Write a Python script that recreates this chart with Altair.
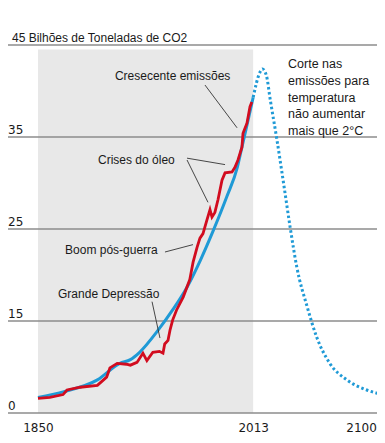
import altair as alt
import pandas as pd

# Historical trend (smooth blue)
blue_years = [1850, 1869, 1895, 1912, 1920, 1927, 1941, 1952, 1963, 1973, 1983, 1993, 2001, 2004.5, 2008, 2013]
blue_vals = [6.7, 7.3, 8.6, 10.4, 10.8, 11.6, 14.0, 16.2, 18.7, 21.6, 24.9, 28.5, 31.7, 33.9, 36.1, 39.3]

# Projection (dotted blue)
proj_years = [2013, 2018, 2020, 2023, 2026, 2031, 2036, 2041, 2046, 2054, 2061, 2071, 2084, 2099, 2111]
proj_vals = [39.3, 42.0, 42.4, 41.7, 39.0, 34.7, 30.0, 25.2, 20.9, 16.5, 13.3, 10.4, 8.6, 7.5, 7.0]

# Observed emissions (red)
red_years = [1850, 1859, 1869, 1872, 1882, 1895, 1902, 1904.5, 1910, 1917, 1920, 1925, 1929.5, 1932.5,
             1937, 1942, 1944.7, 1946, 1948.5, 1950, 1952, 1955, 1960, 1965, 1967.5, 1970.5, 1972.7,
             1975, 1978, 1980.3, 1981.8, 1984, 1986.4, 1989.4, 1991.7, 1997, 1999.2, 2001.5, 2004.5,
             2005.3, 2008.3, 2010.6, 2012]
red_vals = [6.6, 6.7, 7.0, 7.5, 7.8, 8.0, 8.9, 9.9, 10.4, 10.3, 10.2, 10.5, 11.5, 10.7,
            11.6, 11.7, 11.5, 12.5, 12.9, 14.0, 15.1, 16.2, 17.6, 19.5, 21.4, 23.0, 24.0,
            24.5, 26.0, 27.1, 26.3, 26.8, 28.2, 30.3, 31.1, 31.2, 31.7, 32.5, 33.9,
            35.4, 36.5, 38.3, 38.8]

# Axis ticks / labels
y_ticks = [45, 35, 25, 15, 5]
y_labels = ["", "35", "25", "15", "0"]
title_text = "45 Bilhões de Toneladas de CO2"
x_ticks = [1850, 2013, 2100]

# Shaded historical period
shade = pd.DataFrame({"x": [1850], "x2": [2013], "y": [5], "y2": [44.5]})

# Annotations
ann_text = ["Cresecente emissões", "Crises do óleo", "Boom pós-guerra", "Grande Depressão"]
ann_x = [1908.3, 1895.5, 1870.5, 1865.2]
ann_y = [41.6, 32.5, 22.7, 17.9]
lead_x = [1976.5, 1962.9, 1962.9, 1946.2, 1936.4]
lead_y = [40.65, 32.7, 32.5, 22.5, 17.1]
lead_x2 = [2000.8, 1991.7, 1978.8, 1967.4, 1942.4]
lead_y2 = [36.0, 32.0, 27.9, 23.3, 13.15]
note_text = "Corte nas\nemissões para\ntemperatura\nnão aumentar\nmais que 2°C"
note_x = 2039.4
note_y = 43.55

W = 369
X_DOMAIN = [1827.3, 2106.8]
Y_DOMAIN = [5, 45]
xs = alt.Scale(domain=X_DOMAIN, nice=False, zero=False)
ys = alt.Scale(domain=Y_DOMAIN, nice=False, zero=False)

BLUE = "#1f9ad6"
RED = "#d20c1f"
TXT = "#1a1a1a"

blue_df = pd.DataFrame({"year": blue_years, "v": blue_vals})
proj_df = pd.DataFrame({"year": proj_years, "v": proj_vals})
red_df = pd.DataFrame({"year": red_years, "v": red_vals})
grid_df = pd.DataFrame({"y": y_ticks, "label": y_labels})
ann_df = pd.DataFrame({"x": ann_x, "y": ann_y, "t": ann_text})
lead_df = pd.DataFrame({"x": lead_x, "y": lead_y, "x2": lead_x2, "y2": lead_y2})
note_df = pd.DataFrame({"x": [note_x], "y": [note_y], "t": [note_text]})
title_df = pd.DataFrame({"y": [45], "t": [title_text]})

xaxis = alt.Axis(values=x_ticks, format="d", labelFont="DejaVu Sans", labelFontSize=12,
                 labelColor=TXT, domain=False, ticks=False, grid=False, labelPadding=9,
                 title=None, labelFlush=False,
                 labelOffset={"condition": {"test": "datum.value == 2100", "value": -7}, "value": 0})

base_x = alt.X("year:Q", scale=xs, axis=xaxis)

rect = alt.Chart(shade).mark_rect(color="#e8e8e8").encode(
    x=alt.X("x:Q", scale=xs, axis=xaxis), x2="x2", y=alt.Y("y:Q", scale=ys, axis=None), y2="y2")

grid = alt.Chart(grid_df).mark_rule(color="#8c8c8c", strokeWidth=1.3).encode(
    y=alt.Y("y:Q", scale=ys, axis=None), x=alt.value(0), x2=alt.value(W))

ylab = alt.Chart(grid_df).mark_text(align="left", baseline="alphabetic", dy=-3,
                                    font="DejaVu Sans", fontSize=12, color=TXT).encode(
    y=alt.Y("y:Q", scale=ys, axis=None), x=alt.value(0), text="label:N")

title = alt.Chart(title_df).mark_text(align="left", baseline="alphabetic", dy=-3,
                                      font="Liberation Sans", fontSize=12, color=TXT).encode(
    y=alt.Y("y:Q", scale=ys, axis=None), x=alt.value(4), text="t:N")

blue = alt.Chart(blue_df).mark_line(color=BLUE, strokeWidth=3, interpolate="monotone", clip=True).encode(
    x=base_x, y=alt.Y("v:Q", scale=ys, axis=None))

proj = alt.Chart(proj_df).mark_line(color=BLUE, strokeWidth=3, strokeDash=[2.5, 2.5],
                                    interpolate="monotone", clip=True).encode(
    x=base_x, y=alt.Y("v:Q", scale=ys, axis=None))

red = alt.Chart(red_df).mark_line(color=RED, strokeWidth=2.8, clip=True).encode(
    x=base_x, y=alt.Y("v:Q", scale=ys, axis=None))

leads = alt.Chart(lead_df).mark_rule(color="#333333", strokeWidth=0.9).encode(
    x=alt.X("x:Q", scale=xs, axis=xaxis), y=alt.Y("y:Q", scale=ys, axis=None), x2="x2", y2="y2")

ann = alt.Chart(ann_df).mark_text(align="left", baseline="middle", font="Liberation Sans",
                                  fontSize=12, color=TXT).encode(
    x=alt.X("x:Q", scale=xs, axis=xaxis), y=alt.Y("y:Q", scale=ys, axis=None), text="t:N")

note = alt.Chart(note_df).mark_text(align="left", baseline="top", font="Liberation Sans",
                                    fontSize=12.5, color=TXT, lineBreak="\n", lineHeight=16.6).encode(
    x=alt.X("x:Q", scale=xs, axis=xaxis), y=alt.Y("y:Q", scale=ys, axis=None), text="t:N")

chart = alt.layer(rect, grid, blue, proj, red, leads, ann, note, ylab, title).properties(
    width=W, height=368,
    autosize=alt.AutoSizeParams(type="none"),
    padding={"left": 0, "top": 37, "right": 0, "bottom": 22},
).configure_view(stroke=None)

chart.save("out.html", embed_options={"renderer": "svg", "actions": False})
